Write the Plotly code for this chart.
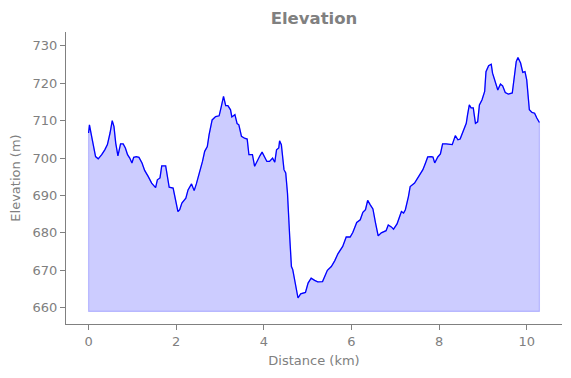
import plotly.graph_objects as go

distance_km = [0.00, 0.02, 0.07, 0.16, 0.22, 0.30, 0.37, 0.43, 0.49, 0.54, 0.58, 0.62, 0.67, 0.73, 0.79,
               0.84, 0.89, 0.94, 0.99, 1.03, 1.09, 1.15, 1.22, 1.28, 1.36, 1.44, 1.53, 1.57, 1.63, 1.67,
               1.76, 1.79, 1.84, 1.93, 1.98, 2.04, 2.08, 2.13, 2.22, 2.27, 2.35, 2.41, 2.46, 2.54, 2.60,
               2.65, 2.71, 2.75, 2.82, 2.90, 2.98, 3.03, 3.08, 3.13, 3.18, 3.24, 3.27, 3.34, 3.39, 3.43,
               3.49, 3.56, 3.62, 3.66, 3.74, 3.79, 3.84, 3.91, 3.96, 4.02, 4.07, 4.13, 4.20, 4.25, 4.29,
               4.34, 4.36, 4.40, 4.46, 4.50, 4.54, 4.59, 4.63, 4.66, 4.72, 4.78, 4.84, 4.89, 4.95, 5.01,
               5.08, 5.16, 5.23, 5.34, 5.39, 5.45, 5.54, 5.62, 5.69, 5.80, 5.88, 5.97, 6.03, 6.12, 6.20,
               6.26, 6.32, 6.37, 6.43, 6.49, 6.55, 6.61, 6.68, 6.79, 6.84, 6.91, 6.96, 7.04, 7.10, 7.14,
               7.19, 7.23, 7.30, 7.34, 7.44, 7.54, 7.63, 7.69, 7.74, 7.82, 7.86, 7.90, 7.97, 8.03, 8.08,
               8.16, 8.30, 8.37, 8.43, 8.48, 8.56, 8.62, 8.65, 8.69, 8.73, 8.78, 8.83, 8.88, 8.92, 8.98,
               9.04, 9.07, 9.13, 9.19, 9.22, 9.28, 9.34, 9.40, 9.45, 9.51, 9.58, 9.67, 9.72, 9.76, 9.80,
               9.86, 9.91, 9.96, 10.00, 10.03, 10.06, 10.12, 10.18, 10.23, 10.27, 10.29]

elevation_m = [706.7, 708.9, 705.8, 700.4, 699.8, 700.9, 702.2, 703.6, 706.7, 710.0, 708.4, 704.0, 700.6, 703.8, 703.8,
               702.7, 700.9, 700.0, 698.7, 700.2, 700.4, 700.2, 698.7, 696.7, 695.1, 693.3, 692.1, 694.2, 694.7, 697.9,
               697.9, 696.0, 692.2, 692.0, 688.9, 685.7, 686.2, 688.0, 689.3, 691.5, 693.1, 691.3, 693.1, 696.4, 699.1,
               701.8, 703.1, 706.2, 710.2, 711.1, 711.3, 713.8, 716.5, 714.0, 714.0, 712.9, 711.0, 711.6, 709.2, 708.9,
               705.8, 705.3, 705.1, 700.9, 700.9, 697.8, 699.1, 700.6, 701.6, 700.4, 699.1, 699.1, 700.0, 698.9, 702.2,
               702.7, 704.6, 703.6, 696.9, 696.0, 690.6, 679.1, 671.0, 670.2, 666.1, 662.6, 663.7, 663.9, 664.1, 666.6,
               667.9, 667.3, 666.9, 667.0, 668.4, 670.0, 671.0, 672.6, 674.4, 676.4, 678.9, 678.9, 680.1, 682.8, 683.5,
               685.5, 686.2, 688.7, 687.5, 686.4, 682.6, 679.2, 680.0, 680.6, 682.1, 681.6, 681.0, 682.4, 684.4, 685.7,
               685.3, 686.2, 689.7, 692.4, 693.3, 695.1, 696.9, 698.7, 700.3, 700.4, 700.3, 698.7, 700.3, 701.1, 703.8,
               703.8, 703.6, 706.0, 704.9, 705.1, 707.6, 709.3, 711.6, 714.2, 713.4, 713.4, 709.3, 709.7, 714.2, 715.6,
               717.8, 723.1, 724.7, 725.1, 722.7, 720.7, 718.2, 719.8, 719.3, 717.5, 717.1, 717.4, 722.3, 725.8, 726.9,
               725.4, 722.9, 723.1, 720.9, 717.4, 712.9, 712.2, 712.0, 710.7, 709.8, 709.5]

base_elevation = 659.0
x_ticks = [0, 2, 4, 6, 8, 10]
y_ticks = [660, 670, 680, 690, 700, 710, 720, 730]

title_text = "Elevation"
x_title = "Distance (km)"
y_title = "Elevation (m)"

GRAY = "#808080"
FONT = "DejaVu Sans"

poly_x = distance_km + [distance_km[-1], distance_km[0], distance_km[0]]
poly_y = elevation_m + [base_elevation, base_elevation, elevation_m[0]]

fig = go.Figure()
fig.add_trace(go.Scatter(
    x=poly_x, y=poly_y, mode="lines", fill="toself",
    fillcolor="rgba(0,0,255,0.2)",
    line=dict(color="rgba(0,0,255,0.2)", width=1.2),
    hoverinfo="skip", showlegend=False,
))
fig.add_trace(go.Scatter(
    x=distance_km, y=elevation_m, mode="lines",
    line=dict(color="#0000ff", width=1.3),
    showlegend=False,
))

fig.update_layout(
    width=571, height=378,
    margin=dict(l=66, r=8.5, t=32, b=53.7),
    paper_bgcolor="white", plot_bgcolor="white",
    font=dict(family=FONT, color=GRAY, size=13),
    title=dict(text="<b>" + title_text + "</b>", x=0.5, xref="paper", xanchor="center",
               y=1 - 18 / 378, yref="container", yanchor="middle",
               font=dict(family=FONT, size=16.5, color=GRAY)),
)
fig.update_xaxes(
    range=[-0.515, 10.805], tickvals=x_ticks, ticktext=[str(t) for t in x_ticks],
    showgrid=False, zeroline=False, showline=True, linecolor=GRAY, linewidth=1,
    ticks="outside", ticklen=5, tickcolor=GRAY, tickwidth=1, automargin=False,
    tickfont=dict(family=FONT, size=13, color=GRAY),
    title=dict(text=x_title, standoff=8, font=dict(family=FONT, size=13, color=GRAY)),
)
fig.update_yaxes(
    range=[655.65, 733.7], tickvals=y_ticks, ticktext=[str(t) for t in y_ticks],
    showgrid=False, zeroline=False, showline=True, linecolor=GRAY, linewidth=1,
    ticks="outside", ticklen=5, tickcolor=GRAY, tickwidth=1, automargin=False,
    tickfont=dict(family=FONT, size=13, color=GRAY),
    title=dict(text=y_title, standoff=9, font=dict(family=FONT, size=13, color=GRAY)),
)

fig.write_html("out.html", config={"displayModeBar": False},
               post_script="document.body.style.margin='0';")
